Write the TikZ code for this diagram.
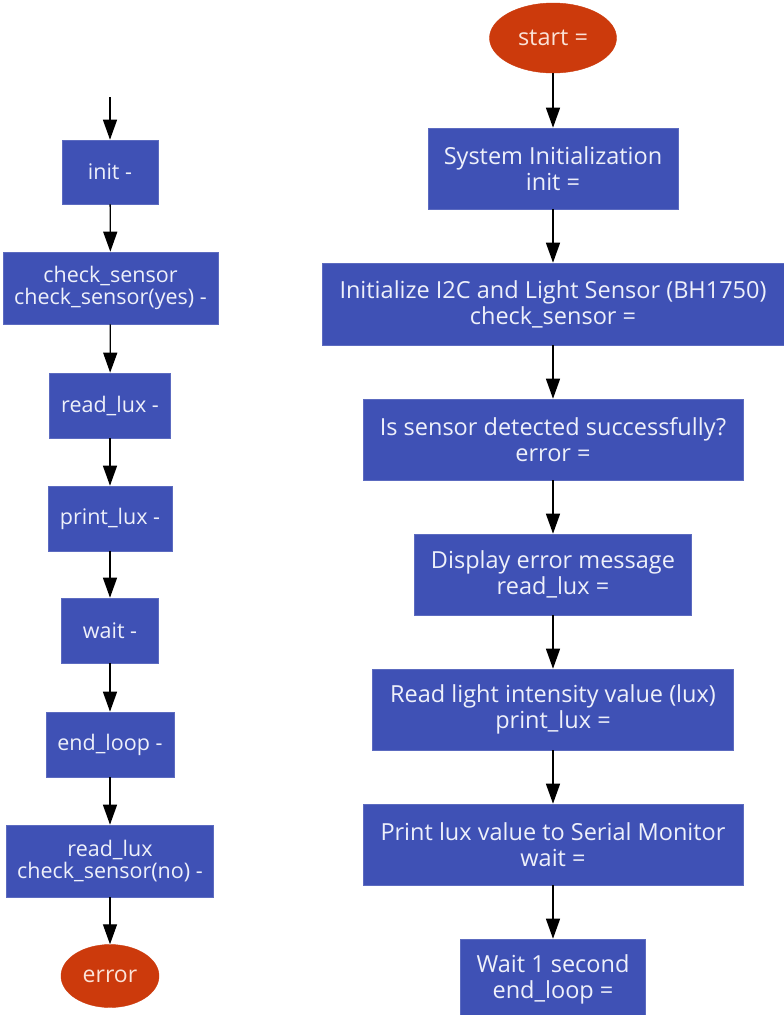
\documentclass[tikz,border=0pt]{standalone}
\usepackage{fontspec}
\setmainfont{Open Sans}
\usetikzlibrary{shapes.geometric,arrows.meta}
\definecolor{boxblue}{HTML}{3F51B5}
\definecolor{boxedge}{HTML}{5C6BC0}
\definecolor{endred}{HTML}{CC3A0C}
\definecolor{txtblue}{HTML}{EEF0FA}
\definecolor{txtred}{HTML}{FBE3D8}
\tikzset{
  stepbox/.style={rectangle, fill=boxblue, draw=boxedge, line width=0.6pt, inner sep=0pt, align=center, text=txtblue},
  leftbox/.style={stepbox, font=\fontsize{21.5}{22}\selectfont},
  rightbox/.style={stepbox, font=\fontsize{23.5}{26}\selectfont},
  termnode/.style={ellipse, fill=endred, draw=endred, inner sep=0pt, text=txtred},
  flow/.style={draw=black, line width=1.3pt, -{Triangle[width=14pt,length=20pt]}}
}
\begin{document}
\begin{tikzpicture}[x=1pt,y=-1pt]
\useasboundingbox[fill=white] (0,0) rectangle (784,1015);
% left column
\coordinate (top) at (110,97);
\node[leftbox, minimum width=96pt, minimum height=64pt] (init) at (110,172) {init -};
\node[leftbox, minimum width=215pt, minimum height=72pt] (cs) at (110.5,288) {check\_sensor\\check\_sensor(yes) -};
\node[leftbox, minimum width=121pt, minimum height=65pt] (rl) at (110,405.5) {read\_lux -};
\node[leftbox, minimum width=124pt, minimum height=65pt] (pl) at (110,518.5) {print\_lux -};
\node[leftbox, minimum width=97pt, minimum height=65pt] (wt) at (110,630.5) {wait -};
\node[leftbox, minimum width=128pt, minimum height=65pt] (el) at (110,744.5) {end\_loop -};
\node[leftbox, minimum width=207pt, minimum height=72pt] (rn) at (110,861) {read\_lux\\check\_sensor(no) -};
\node[termnode, minimum width=98pt, minimum height=63pt, font=\fontsize{23}{24}\selectfont] (err) at (110,976) {error};
\draw[flow] (top) -- (init);
\draw[flow] (init) -- (cs);
\draw[flow] (cs) -- (rl);
\draw[flow] (rl) -- (pl);
\draw[flow] (pl) -- (wt);
\draw[flow] (wt) -- (el);
\draw[flow] (el) -- (rn);
\draw[flow] (rn) -- (err);
% right column
\node[termnode, minimum width=127pt, minimum height=70pt, font=\fontsize{23.5}{26}\selectfont] (start) at (553,38) {start =};
\node[rightbox, minimum width=250pt, minimum height=81pt] (si) at (553,168.5) {System Initialization\\init =};
\node[rightbox, minimum width=462pt, minimum height=82pt] (ii) at (553,304) {Initialize I2C and Light Sensor (BH1750)\\check\_sensor =};
\node[rightbox, minimum width=380pt, minimum height=81pt] (sd) at (553,439.5) {Is sensor detected successfully?\\error =};
\node[rightbox, minimum width=277pt, minimum height=81pt] (de) at (553,574.5) {Display error message\\read\_lux =};
\node[rightbox, minimum width=361pt, minimum height=81pt] (rli) at (553,709.5) {Read light intensity value (lux)\\print\_lux =};
\node[rightbox, minimum width=380pt, minimum height=81pt] (pm) at (553,844.5) {Print lux value to Serial Monitor\\wait =};
\node[rightbox, minimum width=185pt, minimum height=81pt] (w1) at (553,979.5) {Wait 1 second\\end\_loop =};
\draw[flow] (start) -- (si);
\draw[flow] (si) -- (ii);
\draw[flow] (ii) -- (sd);
\draw[flow] (sd) -- (de);
\draw[flow] (de) -- (rli);
\draw[flow] (rli) -- (pm);
\draw[flow] (pm) -- (w1);
\end{tikzpicture}
\end{document}
